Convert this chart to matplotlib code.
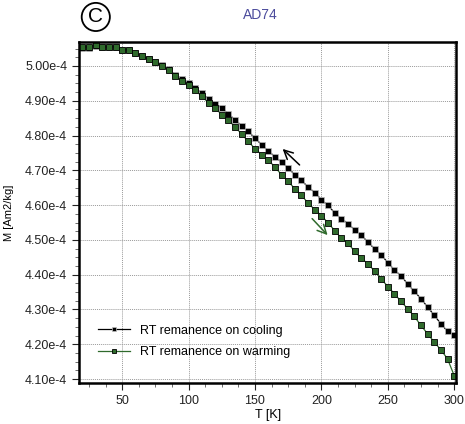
import numpy as np
import matplotlib.pyplot as plt
from matplotlib.ticker import AutoMinorLocator, FuncFormatter

plt.rcParams['font.family'] = ['Liberation Sans', 'DejaVu Sans']

# temperature steps (K), same for both runs
temp = np.arange(20, 301, 5)

# remanent magnetisation, units of 1e-4 Am2/kg
m_cooling = [5.053, 5.053, 5.058, 5.055, 5.054, 5.054, 5.046, 5.046, 5.038, 5.030,
             5.021, 5.012, 5.003, 4.990, 4.975, 4.962, 4.951, 4.937, 4.921, 4.905,
             4.891, 4.879, 4.862, 4.845, 4.828, 4.812, 4.792, 4.774, 4.756, 4.739,
             4.723, 4.707, 4.687, 4.671, 4.652, 4.636, 4.616, 4.599, 4.578, 4.561,
             4.547, 4.529, 4.515, 4.493, 4.475, 4.457, 4.435, 4.413, 4.397, 4.373,
             4.352, 4.331, 4.307, 4.283, 4.259, 4.237, 4.227]
m_warming = [5.055, 5.055, 5.061, 5.055, 5.055, 5.055, 5.045, 5.047, 5.037, 5.028,
             5.020, 5.010, 5.001, 4.987, 4.970, 4.956, 4.946, 4.930, 4.913, 4.894,
             4.879, 4.860, 4.844, 4.825, 4.804, 4.783, 4.762, 4.745, 4.729, 4.710,
             4.687, 4.668, 4.647, 4.628, 4.606, 4.587, 4.570, 4.549, 4.527, 4.505,
             4.491, 4.467, 4.448, 4.431, 4.411, 4.388, 4.366, 4.345, 4.323, 4.302,
             4.280, 4.254, 4.230, 4.206, 4.184, 4.158, 4.110]

m_cooling = np.array(m_cooling) * 1e-4
m_warming = np.array(m_warming) * 1e-4

green = '#2f6a2c'

fig = plt.figure(figsize=(4.65, 4.24), dpi=100)
ax = fig.add_axes([0.170, 0.097, 0.811, 0.804])

ax.plot(temp, m_cooling, color='black', lw=0.9, marker='s', ms=4.0,
        mfc='black', mec='#bdbdbd', mew=0.5, label='RT remanence on cooling')
ax.plot(temp, m_warming, color=green, lw=0.9, marker='s', ms=4.0,
        mfc=green, mec='black', mew=0.6, label='RT remanence on warming')

# direction arrows
ax.annotate('', xy=(169.3, 4.767e-4), xytext=(185.1, 4.710e-4),
            arrowprops=dict(arrowstyle='->', color='black', lw=1.1,
                            mutation_scale=16))
ax.annotate('', xy=(206.1, 4.508e-4), xytext=(191.6, 4.567e-4),
            arrowprops=dict(arrowstyle='->', color=green, lw=1.1,
                            mutation_scale=16))

ax.set_xlim(17.5, 301.5)
ax.set_ylim(4.089e-4, 5.069e-4)
ax.set_xticks([50, 100, 150, 200, 250, 300])
ax.set_yticks(np.arange(4.10, 5.01, 0.10) * 1e-4)
ax.yaxis.set_major_formatter(FuncFormatter(lambda v, p: f'{v * 1e4:.2f}e-4'))
ax.xaxis.set_minor_locator(AutoMinorLocator(4))
ax.yaxis.set_minor_locator(AutoMinorLocator(4))
ax.tick_params(which='major', direction='out', length=5, width=0.8,
               labelsize=9, colors='#222222')
ax.tick_params(which='minor', direction='out', length=3, width=0.6,
               color='#555555')
for s in ax.spines.values():
    s.set_linewidth(1.8)

ax.grid(True, which='major', color='#9a9a9a', ls=(0, (1, 1)), lw=0.7)
ax.set_axisbelow(True)

ax.set_xlabel('T [K]', fontsize=9, labelpad=2)
ax.set_ylabel('M [Am2/kg]', fontsize=8, labelpad=8)

leg = ax.legend(loc='lower left', frameon=False, fontsize=9, handlelength=2.6,
                markerscale=0.8, labelspacing=0.75, bbox_to_anchor=(0.02, 0.04))

fig.text(0.559, 0.965, 'AD74', color='#4b4b9c', fontsize=10, ha='center', va='center')
fig.text(0.206, 0.96, 'C', fontsize=15, ha='center', va='center',
         bbox=dict(boxstyle='circle,pad=0.22', fc='white', ec='black', lw=1.3))

fig.savefig('out.png', dpi=100)
